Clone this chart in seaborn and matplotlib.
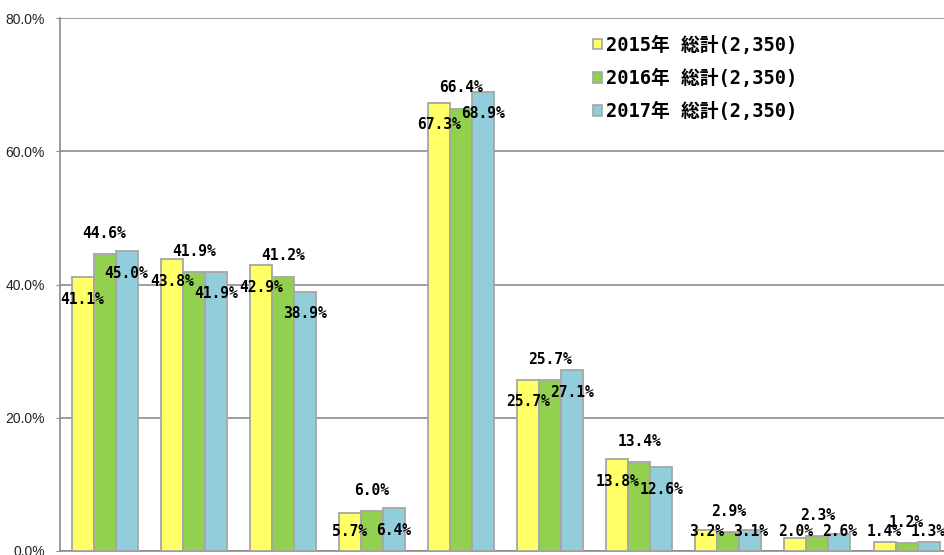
import numpy as np
import pandas as pd
import matplotlib.pyplot as plt
import seaborn as sns
from matplotlib.patches import Patch
from matplotlib.ticker import FuncFormatter

# data (x category labels are cut off in the picture)
categories = ['項目1', '項目2', '項目3', '項目4', '項目5', '項目6', '項目7', '項目8', '項目9', '項目10']
series_names = ['2015年 総計(2,350)', '2016年 総計(2,350)', '2017年 総計(2,350)']
v2015 = [41.1, 43.8, 42.9, 5.7, 67.3, 25.7, 13.8, 3.2, 2.0, 1.4]
v2016 = [44.6, 41.9, 41.2, 6.0, 66.4, 25.7, 13.4, 2.9, 2.3, 1.2]
v2017 = [45.0, 41.9, 38.9, 6.4, 68.9, 27.1, 12.6, 3.1, 2.6, 1.3]
colors = ['#FFFF66', '#92D050', '#92CDDC']

df = pd.DataFrame({
    'category': categories * 3,
    'series': np.repeat(series_names, len(categories)),
    'value': v2015 + v2016 + v2017,
})

sns.set_style('white')
plt.rcParams['font.family'] = ['Noto Sans CJK JP', 'DejaVu Sans']
gothic = ['DejaVu Sans Mono', 'Noto Sans CJK JP']

fig = plt.figure(figsize=(9.44, 5.55), dpi=100)
ax = fig.add_axes([60 / 944, 4 / 555, 1 - 60 / 944, 533 / 555])

sns.barplot(data=df, x='category', y='value', hue='series', palette=colors,
            saturation=1, width=0.74, edgecolor='#A6A6A6', linewidth=1.3,
            ax=ax, legend=False, zorder=3)

ax.set_ylim(0, 80)
ax.set_yticks([0, 20, 40, 60, 80])
ax.yaxis.set_major_formatter(FuncFormatter(lambda v, p: f'{v:.1f}%'))
ax.set_xlim(-0.5, 9.42)
ax.set_xlabel('')
ax.set_ylabel('')
ax.set_xticks([])
ax.grid(axis='y', color='#8C8C8C', linewidth=1.2, zorder=0)
ax.set_axisbelow(True)
for side in ['top', 'right']:
    ax.spines[side].set_visible(False)
for side in ['left', 'bottom']:
    ax.spines[side].set_color('#8C8C8C')
    ax.spines[side].set_linewidth(1.2)
ax.tick_params(axis='y', length=3, color='#8C8C8C', labelsize=10,
               labelcolor='#222222', pad=8, left=True)
for lab in ax.get_yticklabels():
    lab.set_family(['Liberation Sans', 'DejaVu Sans'])

# data labels: middle series above the bar, outer series just below the top
# (kept off the axis line for the short bars)
for i, cont in enumerate(ax.containers):
    for bar in cont:
        h = bar.get_height()
        y = h + 3.1 if i == 1 else max(h - 3.3, 3.0)
        ax.text(bar.get_x() + bar.get_width() / 2, y, f'{h:.1f}%',
                ha='center', va='center', fontsize=10.5, fontweight='bold',
                family=gothic, color='black', zorder=5)

handles = [Patch(facecolor=c, edgecolor='#A6A6A6', linewidth=1.2) for c in colors]
ax.legend(handles, series_names, loc='upper left', bbox_to_anchor=(0.603, 0.967),
          frameon=False, handlelength=0.5, handleheight=0.5, borderaxespad=0,
          borderpad=0, handletextpad=0.2, labelspacing=0.75, labelcolor='black',
          prop={'weight': 'bold', 'size': 13.5, 'family': gothic})

fig.savefig('out.png', dpi=100)
